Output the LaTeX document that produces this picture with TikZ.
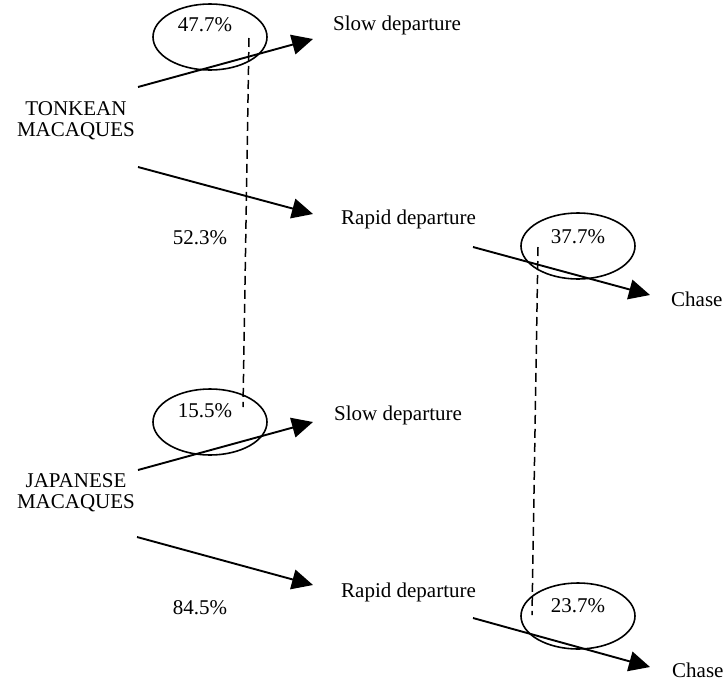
\documentclass[tikz,border=0pt]{standalone}
\usepackage{fontspec}
\setmainfont{Liberation Serif}
\usetikzlibrary{arrows.meta,shapes.geometric}
\begin{document}
\begin{tikzpicture}[x=1pt,y=-1pt,
  font=\fontsize{21}{21}\selectfont,
  conn/.style={line width=1.9pt, -{Triangle[length=21pt,width=20pt]}},
  oval/.style={draw, ellipse, line width=1.6pt, minimum width=114pt, minimum height=66pt, inner sep=0pt},
  dline/.style={line width=1.5pt, dash pattern=on 9pt off 5pt},
  lbl/.style={inner sep=0pt, anchor=base west},
  pct/.style={inner sep=0pt, anchor=base},
  grp/.style={inner sep=0pt, align=center, font=\fontsize{21}{21}\selectfont}]
\useasboundingbox (0,0) rectangle (728,683);
% ellipses
\node[oval] (e1) at (210,37) {};
\node[oval] (e2) at (578,246) {};
\node[oval] (e3) at (210,422) {};
\node[oval] (e4) at (578,616) {};
% percentages
\node[pct] (p1) at (205,31) {47.7\%};
\node[pct] (p2) at (200,244) {52.3\%};
\node[pct] (p3) at (578,243) {37.7\%};
\node[pct] (p4) at (205,417) {15.5\%};
\node[pct] (p5) at (200,614) {84.5\%};
\node[pct] (p6) at (578,612) {23.7\%};
% labels
\node[lbl] (s1) at (333,30) {Slow departure};
\node[lbl] (r1) at (341,224) {Rapid departure};
\node[lbl] (c1) at (671,306) {Chase};
\node[lbl] (s2) at (334,420) {Slow departure};
\node[lbl] (r2) at (341,597) {Rapid departure};
\node[lbl] (c2) at (672,677) {Chase};
\node[grp] (tk) at (76,121) {TONKEAN\\MACAQUES};
\node[grp] (jp) at (76,493) {JAPANESE\\MACAQUES};
% connector end points
\coordinate (a1s) at (138,87);  \coordinate (a1e) at (313,39);
\coordinate (a2s) at (138,167); \coordinate (a2e) at (313,214);
\coordinate (a3s) at (473,247); \coordinate (a3e) at (650,295);
\coordinate (a4s) at (138,470); \coordinate (a4e) at (313,422);
\coordinate (a5s) at (137,537); \coordinate (a5e) at (313,585);
\coordinate (a6s) at (473,618); \coordinate (a6e) at (650,667);
\coordinate (d1s) at (249,38);  \coordinate (d1e) at (243,407);
\coordinate (d2s) at (538,247); \coordinate (d2e) at (532,615);
\draw[conn] (a1s) -- (a1e);
\draw[conn] (a2s) -- (a2e);
\draw[conn] (a3s) -- (a3e);
\draw[conn] (a4s) -- (a4e);
\draw[conn] (a5s) -- (a5e);
\draw[conn] (a6s) -- (a6e);
\draw[dline] (d1s) -- (d1e);
\draw[dline] (d2s) -- (d2e);
\end{tikzpicture}
\end{document}
